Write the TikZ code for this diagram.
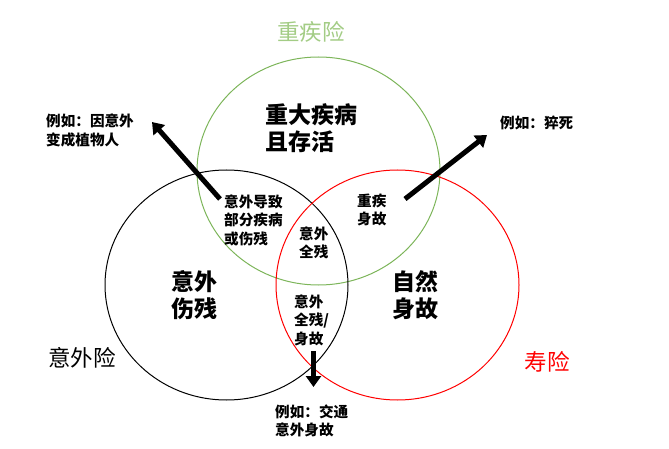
\documentclass[tikz,border=0pt]{standalone}
\usepackage{fontspec}
\setmainfont{Noto Sans CJK SC}
\usetikzlibrary{arrows.meta}
\definecolor{cgreen}{HTML}{7DB55A}
\definecolor{tgreen}{HTML}{A3CC85}
\begin{document}
\begin{tikzpicture}[x=1pt,y=-1pt,
  ring/.style={line width=1pt},
  small/.style={font=\fontsize{14.6}{18.5}\selectfont\bfseries, align=left, inner sep=0pt, anchor=west},
  big/.style={font=\fontsize{23}{27}\selectfont\bfseries, align=left, inner sep=0pt, anchor=west},
  title/.style={font=\fontsize{22.5}{26}\selectfont, inner sep=0pt},
  fat/.style={line width=5pt, -{Triangle[length=11pt,width=15pt]}}]
\useasboundingbox (0,0) rectangle (669,449);
% circles
\draw[ring, cgreen] (318.5,171) ellipse [x radius=121.5, y radius=114];
\draw[ring, black] (226.5,285) ellipse [x radius=121.5, y radius=115];
\draw[ring, red] (397.5,285) ellipse [x radius=121.5, y radius=115];
% titles
\node[title, text=tgreen] (tz) at (311,32) {重疾险};
\node[title] (ty) at (82,358) {意外险};
\node[title, text=red] (ts) at (547,362) {寿险};
% region labels
\node[big] (zd) at (265,128.5) {重大疾病\\且存活};
\node[big] (ys) at (171,295.5) {意外\\伤残};
\node[big] (zr) at (392,295.5) {自然\\身故};
\node[small] (yd) at (224,220) {意外导致\\部分疾病\\或伤残};
\node[small] (zs) at (357,210) {重疾\\身故};
\node[small] (yq) at (299,243) {意外\\全残};
\node[small] (yqs) at (294,320) {意外\\全残/\\身故};
% examples
\node[small] (e1) at (46,130.5) {例如：因意外\\变成植物人};
\node[small] (e2) at (500,123) {例如：猝死};
\node[small] (e3) at (275,421) {例如：交通\\意外身故};
% arrows
\coordinate (a1s) at (220,199);
\coordinate (a1e) at (152,122);
\coordinate (a2s) at (405,199);
\coordinate (a2e) at (487,135);
\coordinate (a3s) at (313.5,351);
\coordinate (a3e) at (313.5,387);
\draw[fat] (a1s) -- (a1e);
\draw[fat] (a2s) -- (a2e);
\draw[fat] (a3s) -- (a3e);
\end{tikzpicture}
\end{document}
